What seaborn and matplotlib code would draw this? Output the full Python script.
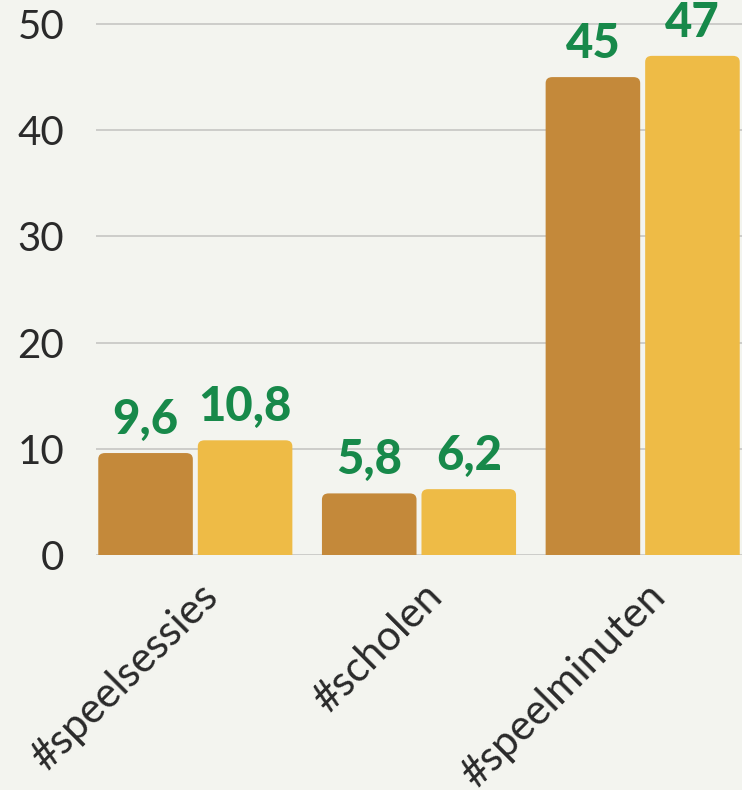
import matplotlib
matplotlib.use("Agg")
import matplotlib.pyplot as plt
import matplotlib.transforms as mtransforms
from matplotlib.patches import FancyBboxPatch
import seaborn as sns
import pandas as pd

# data
categories = ["#speelsessies", "#scholen", "#speelminuten"]
series_names = ["A", "B"]
values_a = [9.6, 5.8, 45]
values_b = [10.8, 6.2, 47]
label_a = ["9,6", "5,8", "45"]
label_b = ["10,8", "6,2", "47"]

bg = "#f3f4ef"
dark_gold = "#c4893a"
light_gold = "#eebb46"
green = "#17894a"

df = pd.DataFrame({
    "cat": categories * 2,
    "serie": [series_names[0]] * 3 + [series_names[1]] * 3,
    "val": values_a + values_b,
})

sns.set_style("white")
plt.rcParams["font.family"] = ["Lato", "DejaVu Sans"]

fig = plt.figure(figsize=(7.42, 7.9), dpi=100, facecolor=bg)
ax = fig.add_axes([96 / 742, 235 / 790, 1 - 96 / 742, 555 / 790])
ax.set_facecolor(bg)

sns.barplot(data=df, x="cat", y="val", hue="serie", order=categories,
            hue_order=series_names, palette=[dark_gold, light_gold],
            width=0.89, gap=0.05, saturation=1, ax=ax, legend=False, zorder=3)

ax.set_ylim(0, 555 / 10.62)
ax.set_xlim(-0.444, 2.444)

# labels on bars
for cont, labs in zip(ax.containers, [label_a, label_b]):
    ax.bar_label(cont, labels=labs, padding=8, color=green, fontsize=34,
                 fontweight="black")

# rounded top corners
for p in list(ax.patches):
    x, y = p.get_x(), p.get_y()
    w, h = p.get_width(), p.get_height()
    fb = FancyBboxPatch((x, y - 2), w, h + 2,
                        boxstyle="round,pad=0,rounding_size=0.03",
                        mutation_aspect=19, facecolor=p.get_facecolor(),
                        edgecolor="none", zorder=3)
    p.set_visible(False)
    ax.add_patch(fb)

ax.set_yticks([0, 10, 20, 30, 40, 50])
ax.yaxis.grid(True, color="#c9c9c7", linewidth=1.3, zorder=0)
ax.set_axisbelow(True)
for s in ax.spines.values():
    s.set_visible(False)
ax.tick_params(axis="both", length=0)
ax.tick_params(axis="y", pad=23, labelsize=29, labelcolor="#2a2a2a")
ax.tick_params(axis="x", pad=25)

ax.set_xlabel("")
ax.set_ylabel("")
offset = mtransforms.ScaledTranslation(0.17, 0, fig.dpi_scale_trans)
for t in ax.get_xticklabels():
    t.set_rotation(45)
    t.set_ha("right")
    t.set_va("center")
    t.set_rotation_mode("anchor")
    t.set_fontsize(30)
    t.set_color("#2a2a2a")
    t.set_transform(t.get_transform() + offset)

fig.savefig("out.png", dpi=100, facecolor=bg)
